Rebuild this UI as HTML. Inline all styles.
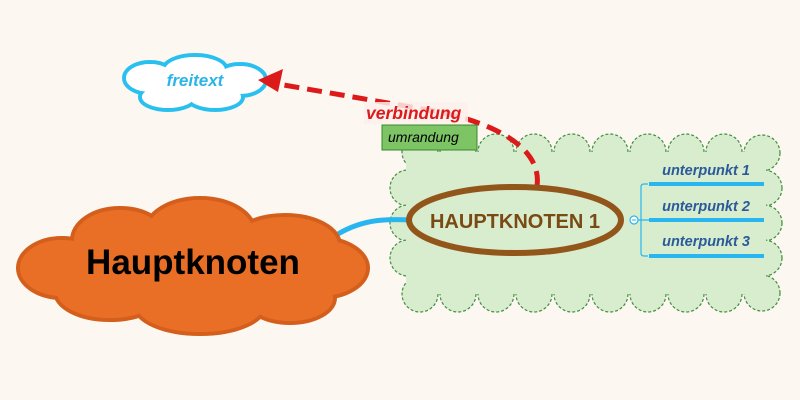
<!DOCTYPE html>
<html><head><meta charset="utf-8"><style>
html,body{margin:0;padding:0;background:#fcf7f0;}
svg{display:block;font-family:"Liberation Sans",sans-serif;}
</style></head><body>
<svg width="800" height="400" viewBox="0 0 800 400" xmlns="http://www.w3.org/2000/svg">
<rect width="800" height="400" fill="#fcf7f0"/>
<!-- green cloud -->
<g fill="#d8ecce" stroke="#3d8f3d" stroke-width="1.2" stroke-dasharray="3,2">
<circle cx="420" cy="152" r="18"/><circle cx="458" cy="152" r="18"/><circle cx="496" cy="152" r="18"/>
<circle cx="534" cy="152" r="18"/><circle cx="572" cy="152" r="18"/><circle cx="610" cy="152" r="18"/>
<circle cx="648" cy="152" r="18"/><circle cx="686" cy="152" r="18"/><circle cx="724" cy="152" r="18"/>
<circle cx="762" cy="153" r="18"/>
<circle cx="420" cy="294" r="18"/><circle cx="458" cy="294" r="18"/><circle cx="496" cy="294" r="18"/>
<circle cx="534" cy="294" r="18"/><circle cx="572" cy="294" r="18"/><circle cx="610" cy="294" r="18"/>
<circle cx="648" cy="294" r="18"/><circle cx="686" cy="294" r="18"/><circle cx="724" cy="294" r="18"/>
<circle cx="762" cy="293" r="18"/>
<circle cx="408" cy="188" r="18"/><circle cx="408" cy="223" r="18"/><circle cx="408" cy="258" r="18"/>
<circle cx="764" cy="188" r="18"/><circle cx="764" cy="223" r="18"/><circle cx="764" cy="258" r="18"/>
</g>
<rect x="406" y="152" width="360" height="142" fill="#d8ecce"/>
<!-- blue connector -->
<path d="M338,234 C365,218 390,219 412,220" stroke="#29b6f0" stroke-width="5" fill="none"/>
<!-- orange cloud -->
<g fill="#e96e26" stroke="#d45f1c" stroke-width="4">
<ellipse cx="120" cy="240" rx="48" ry="32"/><ellipse cx="200" cy="232" rx="55" ry="34"/>
<ellipse cx="285" cy="245" rx="55" ry="30"/><ellipse cx="320" cy="268" rx="48" ry="30"/>
<ellipse cx="290" cy="298" rx="45" ry="25"/><ellipse cx="200" cy="306" rx="65" ry="28"/>
<ellipse cx="110" cy="292" rx="55" ry="28"/><ellipse cx="62" cy="268" rx="44" ry="30"/>
</g>
<g fill="#e96e26">
<ellipse cx="120" cy="240" rx="46" ry="30"/><ellipse cx="200" cy="232" rx="53" ry="32"/>
<ellipse cx="285" cy="245" rx="53" ry="28"/><ellipse cx="320" cy="268" rx="46" ry="28"/>
<ellipse cx="290" cy="298" rx="43" ry="23"/><ellipse cx="200" cy="306" rx="63" ry="26"/>
<ellipse cx="110" cy="292" rx="53" ry="26"/><ellipse cx="62" cy="268" rx="42" ry="28"/>
<ellipse cx="193" cy="268" rx="140" ry="40"/>
</g>
<text x="193" y="274" text-anchor="middle" font-size="35" font-weight="bold" fill="#000">Hauptknoten</text>
<!-- freitext cloud -->
<g fill="#fff" stroke="#29c0f0" stroke-width="4">
<ellipse cx="150" cy="78" rx="26" ry="16"/><ellipse cx="195" cy="70" rx="32" ry="15"/>
<ellipse cx="240" cy="80" rx="26" ry="16"/><ellipse cx="215" cy="97" rx="28" ry="13"/>
<ellipse cx="168" cy="97" rx="28" ry="13"/>
</g>
<g fill="#fff">
<ellipse cx="150" cy="78" rx="24" ry="14"/><ellipse cx="195" cy="70" rx="30" ry="13"/>
<ellipse cx="240" cy="80" rx="24" ry="14"/><ellipse cx="215" cy="97" rx="26" ry="11"/>
<ellipse cx="168" cy="97" rx="26" ry="11"/><ellipse cx="195" cy="84" rx="55" ry="16"/>
</g>
<text x="195" y="86" text-anchor="middle" font-size="17" font-weight="bold" font-style="italic" fill="#2ab4e8">freitext</text>
<!-- red dashed -->
<path d="M537,186 C542,150 500,125 440,112 L278,84" stroke="#dc1a1a" stroke-width="5" fill="none" stroke-dasharray="15,8"/>
<polygon points="258,80 283,69 278,92" fill="#dc1a1a"/>
<rect x="364" y="102" width="104" height="22" fill="#fcf0ec" opacity="0.85"/>
<text x="366" y="119" font-size="17.5" font-weight="bold" font-style="italic" fill="#dc1a1a">verbindung</text>
<rect x="382" y="125" width="95" height="25" fill="#7cc464" stroke="#3a8a2a" stroke-width="1"/>
<text x="388" y="142" font-size="14" font-style="italic" fill="#000">umrandung</text>
<!-- main node -->
<ellipse cx="515" cy="220" rx="106" ry="33" fill="#d8ecce" stroke="#93561a" stroke-width="6"/>
<text x="515" y="228" text-anchor="middle" font-size="20" font-weight="bold" fill="#7a4a14">HAUPTKNOTEN 1</text>
<!-- subpoints -->
<path d="M648,184 L644,184 Q641,184 641,187 L641,253 Q641,256 644,256 L648,256 M638,220 L650,220" stroke="#29b6f0" stroke-width="1.2" fill="none"/>
<circle cx="634" cy="220" r="4" fill="#fff" stroke="#29b6f0" stroke-width="1.2"/>
<line x1="632" y1="220" x2="636" y2="220" stroke="#29b6f0" stroke-width="1"/>
<g stroke="#29b6f0" stroke-width="4"><line x1="649" y1="184" x2="764" y2="184"/><line x1="649" y1="220" x2="764" y2="220"/><line x1="649" y1="256" x2="764" y2="256"/></g>
<g font-size="14.5" font-weight="bold" font-style="italic" fill="#2a5a9a" text-anchor="middle">
<text x="706" y="175">unterpunkt 1</text><text x="706" y="211">unterpunkt 2</text><text x="706" y="246">unterpunkt 3</text>
</g>
</svg>
</body></html>
